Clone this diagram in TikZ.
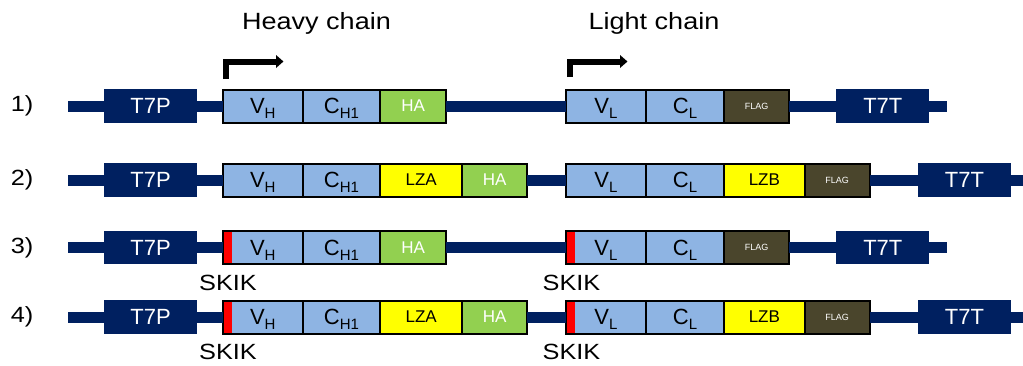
\documentclass[tikz,border=0pt]{standalone}
\usepackage{fontspec}
\setmainfont{Liberation Sans}
\newfontfamily\widesans{Liberation Sans}[FakeStretch=1.15]
\usetikzlibrary{arrows.meta}
\definecolor{navy}{HTML}{002060}
\definecolor{lblue}{HTML}{8EB4E3}
\definecolor{hagreen}{HTML}{92D050}
\definecolor{lzyellow}{HTML}{FFFF00}
\definecolor{flagolive}{HTML}{4A452C}
\definecolor{skred}{HTML}{FF0000}
\newcommand\lowsub[1]{\raisebox{-5pt}[0pt][0pt]{\fontsize{15}{15}\selectfont #1}}
\begin{document}
\begin{tikzpicture}[x=1pt,y=-1pt,
  backbone/.style={line width=11pt, draw=navy},
  t7/.style={fill=navy, text=white, minimum width=93pt, minimum height=33.4pt, inner sep=0pt, outer sep=0pt, anchor=west, font=\fontsize{22}{22}\selectfont},
  seg/.style={draw=black, line width=2pt, minimum height=33pt, inner sep=0pt, outer sep=0pt, anchor=west},
  vbox/.style={seg, fill=lblue, font=\fontsize{22}{22}\selectfont},
  hab/.style={seg, fill=hagreen, text=white, font=\fontsize{17}{17}\selectfont},
  lzb/.style={seg, fill=lzyellow, font=\fontsize{17}{17}\selectfont},
  flagb/.style={seg, fill=flagolive, text=white, font=\fontsize{9}{9}\selectfont},
  redbar/.style={fill=skred, minimum width=7.5pt, minimum height=31pt, inner sep=0pt, outer sep=0pt, anchor=west},
  lab/.style={font=\widesans\fontsize{22}{22}\selectfont, inner sep=0pt},
  title/.style={font=\widesans\fontsize{23.5}{23.5}\selectfont, inner sep=0pt},
  skik/.style={font=\widesans\fontsize{22}{22}\selectfont, inner sep=0pt},
  prom/.style={line width=6pt, line join=miter, -{Triangle[length=7.5pt,width=12.5pt]}}
]
\useasboundingbox (0,0) rectangle (1023,365);

% titles and promoter arrows
\node[title] (hc) at (316.5,23) {Heavy chain};
\node[title] (lc) at (654,23) {Light chain};
\coordinate (hps) at (226.3,79);
\coordinate (hpc) at (226.3,61.5);
\coordinate (hpe) at (283.5,61.5);
\draw[prom] (hps) -- (hpc) -- (hpe);
\coordinate (lps) at (570,77);
\coordinate (lpc) at (570,61.5);
\coordinate (lpe) at (627.5,61.5);
\draw[prom] (lps) -- (lpc) -- (lpe);

% ---------- Row 1 ----------
\node[lab] (n1) at (22,106) {1)};
\coordinate (s1) at (68,106);
\coordinate (e1) at (947,106);
\node[t7] (p1) at (104,106) {T7P};
\node[vbox, minimum width=79.6pt] (vh1) at (223,106) {V\lowsub{H}};
\node[vbox, minimum width=77.7pt] (ch1) at (vh1.east) {C\lowsub{H1}};
\node[hab, minimum width=65.7pt] (ha1) at (ch1.east) {HA};
\node[vbox, minimum width=80pt] (vl1) at (566,106) {V\lowsub{L}};
\node[vbox, minimum width=78pt] (cl1) at (vl1.east) {C\lowsub{L}};
\node[flagb, minimum width=65.3pt] (fl1) at (cl1.east) {FLAG};
\node[t7] (t1) at (836.3,106) {T7T};
\draw[backbone] (s1) -- (p1.west) (p1.east) -- (vh1.west) (ha1.east) -- (vl1.west) (fl1.east) -- (t1.west) (t1.east) -- (e1);

% ---------- Row 2 ----------
\node[lab] (n2) at (22,180) {2)};
\coordinate (s2) at (68,180);
\coordinate (e2) at (1023,180);
\node[t7] (p2) at (104,180) {T7P};
\node[vbox, minimum width=79.6pt] (vh2) at (223,180) {V\lowsub{H}};
\node[vbox, minimum width=77.7pt] (ch2) at (vh2.east) {C\lowsub{H1}};
\node[lzb, minimum width=81.7pt] (lz2) at (ch2.east) {LZA};
\node[hab, minimum width=65.3pt] (ha2) at (lz2.east) {HA};
\node[vbox, minimum width=80pt] (vl2) at (566,180) {V\lowsub{L}};
\node[vbox, minimum width=78pt] (cl2) at (vl2.east) {C\lowsub{L}};
\node[lzb, minimum width=80.7pt] (lb2) at (cl2.east) {LZB};
\node[flagb, minimum width=65pt] (fl2) at (lb2.east) {FLAG};
\node[t7] (t2) at (918,180) {T7T};
\draw[backbone] (s2) -- (p2.west) (p2.east) -- (vh2.west) (ha2.east) -- (vl2.west) (fl2.east) -- (t2.west) (t2.east) -- (e2);

% ---------- Row 3 ----------
\node[lab] (n3) at (22,247.5) {3)};
\coordinate (s3) at (68,247.5);
\coordinate (e3) at (947,247.5);
\node[t7] (p3) at (104,247.5) {T7P};
\node[vbox, minimum width=79.6pt] (vh3) at (223,247.5) {V\lowsub{H}};
\node[vbox, minimum width=77.7pt] (ch3) at (vh3.east) {C\lowsub{H1}};
\node[hab, minimum width=65.7pt] (ha3) at (ch3.east) {HA};
\node[vbox, minimum width=80pt] (vl3) at (566,247.5) {V\lowsub{L}};
\node[vbox, minimum width=78pt] (cl3) at (vl3.east) {C\lowsub{L}};
\node[flagb, minimum width=65.3pt] (fl3) at (cl3.east) {FLAG};
\node[t7] (t3) at (836.3,247.5) {T7T};
\node[redbar] (r3h) at ([xshift=1pt]vh3.west) {};
\node[redbar] (r3l) at ([xshift=1pt]vl3.west) {};
\node[skik] (k3h) at (228,283) {SKIK};
\node[skik] (k3l) at (571.5,283) {SKIK};
\draw[backbone] (s3) -- (p3.west) (p3.east) -- (vh3.west) (ha3.east) -- (vl3.west) (fl3.east) -- (t3.west) (t3.east) -- (e3);

% ---------- Row 4 ----------
\node[lab] (n4) at (22,317) {4)};
\coordinate (s4) at (68,317);
\coordinate (e4) at (1023,317);
\node[t7] (p4) at (104,317) {T7P};
\node[vbox, minimum width=79.6pt] (vh4) at (223,317) {V\lowsub{H}};
\node[vbox, minimum width=77.7pt] (ch4) at (vh4.east) {C\lowsub{H1}};
\node[lzb, minimum width=81.7pt] (lz4) at (ch4.east) {LZA};
\node[hab, minimum width=65.3pt] (ha4) at (lz4.east) {HA};
\node[vbox, minimum width=80pt] (vl4) at (566,317) {V\lowsub{L}};
\node[vbox, minimum width=78pt] (cl4) at (vl4.east) {C\lowsub{L}};
\node[lzb, minimum width=80.7pt] (lb4) at (cl4.east) {LZB};
\node[flagb, minimum width=65pt] (fl4) at (lb4.east) {FLAG};
\node[t7] (t4) at (918,317) {T7T};
\node[redbar] (r4h) at ([xshift=1pt]vh4.west) {};
\node[redbar] (r4l) at ([xshift=1pt]vl4.west) {};
\node[skik] (k4h) at (228,352) {SKIK};
\node[skik] (k4l) at (571.5,352) {SKIK};
\draw[backbone] (s4) -- (p4.west) (p4.east) -- (vh4.west) (ha4.east) -- (vl4.west) (fl4.east) -- (t4.west) (t4.east) -- (e4);
\end{tikzpicture}
\end{document}
